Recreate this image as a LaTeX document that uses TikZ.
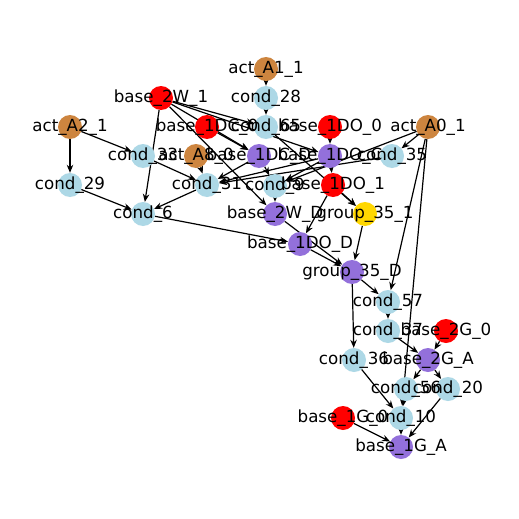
\documentclass[tikz,border=0pt]{standalone}
\usepackage{fontspec}
\setmainfont{DejaVu Sans}
\usetikzlibrary{arrows.meta,backgrounds}
\definecolor{cblue}{HTML}{ADD8E6}
\definecolor{cred}{HTML}{FF0000}
\definecolor{cpurple}{HTML}{9370DB}
\definecolor{cbrown}{HTML}{CD853F}
\definecolor{cgold}{HTML}{FFD700}
\begin{document}
\begin{tikzpicture}[x=1pt,y=-1pt,
  v/.style={circle,minimum size=24pt,inner sep=0pt,draw=none},
  nb/.style={v,fill=cblue},
  nr/.style={v,fill=cred},
  np/.style={v,fill=cpurple},
  nn/.style={v,fill=cbrown},
  ng/.style={v,fill=cgold},
  lab/.style={font=\fontsize{16.7}{17}\selectfont,inner sep=0pt},
  e/.style={-{Stealth[length=8pt,width=6.5pt]},line width=1.2pt,black}]
\useasboundingbox (0,0) rectangle (519,519);
\node[nn] (a11) at (266,69) {};
\node[nb] (c28) at (266,98) {};
\node[nr] (w1) at (161,98) {};
\node[nn] (a21) at (70,127) {};
\node[nr] (dc0) at (207,127) {};
\node[nb] (c65) at (266,127) {};
\node[nr] (do0) at (330,127) {};
\node[nn] (a01) at (428,127) {};
\node[nb] (c33) at (143,156) {};
\node[nn] (a80) at (196,156) {};
\node[np] (dcD) at (259,156) {};
\node[np] (doC) at (330,156) {};
\node[nb] (c35) at (392,156) {};
\node[nb] (c29) at (70,185) {};
\node[nb] (c31) at (207,185) {};
\node[nb] (c9) at (275,186) {};
\node[nr] (do1) at (333,185) {};
\node[nb] (c6) at (143,214) {};
\node[np] (w2D) at (275,214) {};
\node[ng] (g351) at (365,214) {};
\node[np] (doD) at (300,244) {};
\node[np] (g35D) at (352,272) {};
\node[nb] (c57) at (388,302) {};
\node[nb] (c37) at (388,331) {};
\node[nr] (g20) at (446,331) {};
\node[nb] (c36) at (354,360) {};
\node[np] (g2A) at (428,360) {};
\node[nb] (c56) at (406,389) {};
\node[nb] (c20) at (448,389) {};
\node[nr] (g10) at (343,418) {};
\node[nb] (c10) at (401,418) {};
\node[np] (g1A) at (401,447) {};
\begin{scope}[on background layer]
\fill[white] (0,0) rectangle (519,519);
\foreach \s/\t in {a11/c28,c28/c65,w1/c65,w1/dcD,w1/w2D,w1/c6,w1/doC,dc0/dcD,
  a21/c29,a21/c33,c29/c6,c33/c31,a80/c31,dcD/c31,doC/c31,c35/c31,a01/c35,a01/c9,
  a01/c57,a01/c10,do0/doC,doC/do1,doC/c9,dcD/c9,c65/g351,do1/g351,do1/doD,c9/w2D,
  w2D/g35D,doD/g35D,c6/doD,c31/c6,g351/g35D,g35D/c57,g35D/c36,c57/c37,c37/g2A,
  g20/g2A,g2A/c56,g2A/c20,c36/c10,c56/c10,c20/g1A,g10/g1A,c10/g1A}
  \draw[e] (\s) -- (\t);
\end{scope}
\foreach \n/\l in {a11/act\_A1\_1,c28/cond\_28,w1/base\_2W\_1,a21/act\_A2\_1,
  dc0/base\_1DC\_0,c65/cond\_65,do0/base\_1DO\_0,a01/act\_A0\_1,c33/cond\_33,
  a80/act\_A8\_0,dcD/base\_1DC\_D,doC/base\_1DO\_C,c35/cond\_35,c29/cond\_29,
  c31/cond\_31,c9/cond\_9,do1/base\_1DO\_1,c6/cond\_6,w2D/base\_2W\_D,
  g351/group\_35\_1,doD/base\_1DO\_D,g35D/group\_35\_D,c57/cond\_57,c37/cond\_37,
  g20/base\_2G\_0,c36/cond\_36,g2A/base\_2G\_A,c56/cond\_56,c20/cond\_20,
  g10/base\_1G\_0,c10/cond\_10,g1A/base\_1G\_A}
  \node[lab] (l-\n) at (\n) {\l};
\end{tikzpicture}
\end{document}
